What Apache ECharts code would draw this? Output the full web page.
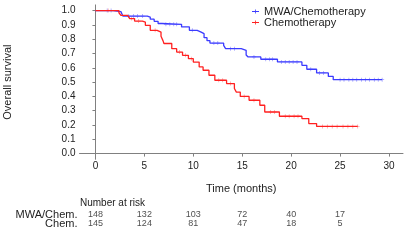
<!DOCTYPE html>
<html><head><meta charset="utf-8">
<script src="https://cdn.jsdelivr.net/npm/echarts@6/dist/echarts.min.js"></script>
<style>html,body{margin:0;padding:0;background:#fff}#c{width:407px;height:247px}</style>
</head><body><div id="c"></div>
<script>
// Kaplan-Meier step data (time in months, survival after the step)
const mwaTimes = [0, 1.8, 2.6, 2.8, 5.3, 5.6, 6.0, 6.4, 6.8, 8.8, 9.6, 10.4, 10.8, 11.1, 11.4, 11.7, 13.1, 13.3, 14.9, 15.4, 15.6, 16.9, 18.6, 21.1, 21.6, 22.6, 23.8, 24.3, 29.3];
const mwaSurv  = [1.0, 0.993, 0.98, 0.962, 0.955, 0.94, 0.925, 0.91, 0.904, 0.886, 0.862, 0.85, 0.839, 0.811, 0.79, 0.773, 0.757, 0.734, 0.722, 0.69, 0.676, 0.66, 0.641, 0.617, 0.59, 0.564, 0.54, 0.517, 0.517];
const chemoTimes = [0, 2.4, 2.6, 3.3, 3.5, 4.0, 4.8, 5.1, 5.6, 6.3, 6.7, 6.9, 7.0, 7.8, 8.3, 8.9, 9.5, 10.0, 10.6, 11.0, 11.6, 12.2, 13.4, 14.2, 14.4, 14.8, 15.7, 16.8, 17.3, 18.8, 21.1, 21.8, 22.6, 26.8];
const chemoSurv  = [1.0, 0.985, 0.967, 0.955, 0.944, 0.927, 0.92, 0.897, 0.862, 0.85, 0.82, 0.79, 0.77, 0.734, 0.71, 0.687, 0.664, 0.64, 0.606, 0.583, 0.548, 0.513, 0.49, 0.455, 0.43, 0.40, 0.373, 0.338, 0.291, 0.261, 0.245, 0.21, 0.19, 0.19];
// censoring times
const mwaCensor = [1.2, 1.6, 3.4, 3.9, 4.3, 4.8, 7.2, 7.6, 8.0, 8.3, 9.9, 12.1, 12.5, 13.8, 14.2, 16.2, 17.4, 17.8, 18.1, 19.0, 19.4, 19.8, 20.2, 20.6, 22.0, 22.9, 23.3, 25.0, 25.4, 25.9, 26.3, 26.7, 27.2, 27.6, 28.0, 28.5, 28.9, 29.3];
const chemoCensor = [1.3, 3.7, 4.4, 6.1, 8.6, 9.2, 9.8, 12.6, 13.0, 13.8, 15.2, 16.2, 17.9, 18.3, 19.4, 19.8, 20.3, 20.7, 23.2, 23.7, 24.2, 24.7, 25.3, 25.8, 26.3, 26.8];
// axes
const xTicks = [0, 5, 10, 15, 20, 25, 30];
const yTicks = [0, 0.1, 0.2, 0.3, 0.4, 0.5, 0.6, 0.7, 0.8, 0.9, 1.0];
// number at risk
const riskTimes = [0, 5, 10, 15, 20, 25];
const riskGroups = ['MWA/Chem.', 'Chem.'];
const riskMWA = [148, 132, 103, 72, 40, 17];
const riskChemo = [145, 124, 81, 47, 18, 5];
const seriesNames = ['MWA/Chemotherapy', 'Chemotherapy'];

const FONT = 'Liberation Sans, Arial, sans-serif';
const BLUE = '#3b3bff', RED = '#ff2020';
const BLUE_L = '#8c8cff', RED_L = '#ff8a8a';
const X_MIN = -1.63, X_MAX = 31.43;

function pairs(ts, ss) { return ts.map((t, i) => [t, ss[i]]); }
function survAt(ts, ss, t) { let v = ss[0]; for (let i = 0; i < ts.length; i++) { if (ts[i] <= t) v = ss[i]; } return v; }
function censorPts(cs, ts, ss) { return cs.map(t => [t, survAt(ts, ss, t)]); }

const plusPath = 'path://M2,0h1v2h2v1h-2v2h-1v-2h-2v-1h2z';
const iconPath = 'path://M0,2h9v1h-9z M4,0h1v5h-1z';

const riskData = [];
riskTimes.forEach((t, i) => { riskData.push([t, 0, riskMWA[i]]); riskData.push([t, 1, riskChemo[i]]); });

const chart = echarts.init(document.getElementById('c'), null, { renderer: 'canvas' });
chart.setOption({
  animation: false,
  backgroundColor: '#fff',
  textStyle: { fontFamily: FONT },
  legend: {
    orient: 'vertical', left: 247, top: 1, itemWidth: 7, itemHeight: 4, itemGap: 0,
    data: [{ name: seriesNames[0], icon: iconPath }, { name: seriesNames[1], icon: iconPath }],
    textStyle: { fontSize: 11, color: '#222', fontFamily: FONT, lineHeight: 10 }
  },
  graphic: [{ type: 'text', left: 80, top: 198, style: { text: 'Number at risk', fontSize: 10, fontFamily: FONT, fill: '#222' } }],
  grid: [
    { left: 79.5, right: 4, top: 4.9, bottom: 87.7, outerBoundsMode: 'none', containLabel: false },
    { left: 79.5, right: 4, top: 210, height: 18, outerBoundsMode: 'none', containLabel: false }
  ],
  xAxis: [
    {
      gridIndex: 0, type: 'value', min: X_MIN, max: X_MAX,
      name: 'Time (months)', nameLocation: 'middle', nameGap: 24,
      nameTextStyle: { fontSize: 11, color: '#222', fontFamily: FONT },
      axisLine: { lineStyle: { color: '#808080', width: 1 } },
      axisTick: { show: true, length: 3, customValues: xTicks, lineStyle: { color: '#808080' } },
      axisLabel: { customValues: xTicks, fontSize: 10, color: '#222', margin: 2, fontFamily: FONT },
      splitLine: { show: false }
    },
    {
      gridIndex: 1, type: 'value', min: X_MIN, max: X_MAX, show: false
    }
  ],
  yAxis: [
    {
      gridIndex: 0, type: 'value', min: -0.04, max: 1.04,
      name: 'Overall survival', nameLocation: 'middle', nameGap: 66,
      nameTextStyle: { fontSize: 11, color: '#222', fontFamily: FONT },
      axisLine: { show: true, lineStyle: { color: '#808080', width: 1 } },
      axisTick: { show: true, length: 3, customValues: yTicks, lineStyle: { color: '#808080' } },
      axisLabel: { customValues: yTicks, fontSize: 10, color: '#222', margin: 4, fontFamily: FONT,
        formatter: v => v.toFixed(1) },
      splitLine: { show: false }
    },
    {
      gridIndex: 1, type: 'category', data: riskGroups, inverse: true,
      axisLine: { show: false }, axisTick: { show: false }, splitLine: { show: false },
      axisLabel: { interval: 0, fontSize: 11, color: '#222', margin: 2, fontFamily: FONT }
    }
  ],
  series: [
    { name: seriesNames[0], type: 'line', step: 'end', data: pairs(mwaTimes, mwaSurv), showSymbol: false, symbol: 'none',
      color: BLUE, lineStyle: { color: BLUE, width: 1.3 }, xAxisIndex: 0, yAxisIndex: 0, z: 3 },
    { name: seriesNames[1], type: 'line', step: 'end', data: pairs(chemoTimes, chemoSurv), showSymbol: false, symbol: 'none',
      color: RED, lineStyle: { color: RED, width: 1.3 }, xAxisIndex: 0, yAxisIndex: 0, z: 3 },
    { name: 'mwaCensor', type: 'scatter', data: censorPts(mwaCensor, mwaTimes, mwaSurv), symbol: plusPath, symbolSize: 4,
      itemStyle: { color: BLUE_L }, xAxisIndex: 0, yAxisIndex: 0, z: 2 },
    { name: 'chemoCensor', type: 'scatter', data: censorPts(chemoCensor, chemoTimes, chemoSurv), symbol: plusPath, symbolSize: 4,
      itemStyle: { color: RED_L }, xAxisIndex: 0, yAxisIndex: 0, z: 2 },
    { name: 'risk', type: 'scatter', xAxisIndex: 1, yAxisIndex: 1, data: riskData, symbolSize: 1,
      itemStyle: { color: 'rgba(0,0,0,0)' },
      label: { show: true, position: 'inside', formatter: p => String(p.value[2]), fontSize: 9, color: '#222', fontFamily: FONT } }
  ]
});
</script>
</body></html>
